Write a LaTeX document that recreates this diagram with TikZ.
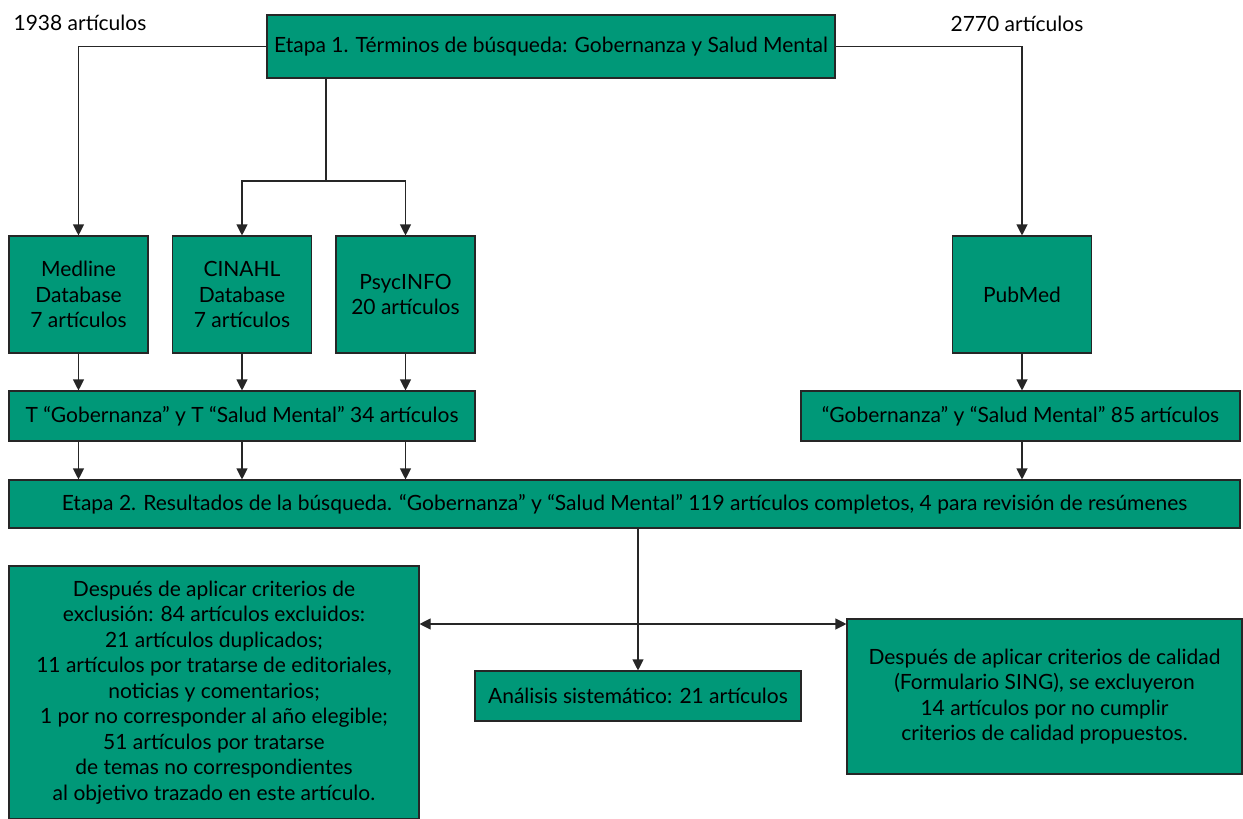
\documentclass[tikz,border=0pt]{standalone}
\usepackage{fontspec}
\setmainfont{Lato}
\usetikzlibrary{positioning,shapes,arrows.meta}
\definecolor{caja}{RGB}{0,152,120}

\begin{document}
\begin{tikzpicture}[x=1pt,y=-1pt,
    caja/.style={draw=black!85,fill=caja,line width=1.1pt,inner sep=0pt,align=center,
        font=\fontsize{21}{25.5}\selectfont},
    flecha/.style={-{Triangle[width=11pt,length=11pt]},line width=1.1pt,black!85},
    doble/.style={{Triangle[width=11pt,length=11pt]}-{Triangle[width=11pt,length=11pt]},line width=1.1pt,black!85}]
        \useasboundingbox (0,0) rectangle (1243,819);
        % etapa 1
        \node[caja,minimum width=568pt,minimum height=63pt] (etapa1) at (551,46.5) {Etapa 1. Términos de búsqueda: Gobernanza y Salud Mental};
        \node[font=\fontsize{21}{25.5}\selectfont] (n1938) at (80,23) {1938 artículos};
        \node[font=\fontsize{21}{25.5}\selectfont] (n2770) at (1017,24) {2770 artículos};
        % bases de datos
        \node[caja,minimum width=139pt,minimum height=117pt] (medline) at (78.5,294.5) {Medline\\Database\\7 artículos};
        \node[caja,minimum width=139pt,minimum height=117pt] (cinahl) at (242,294.5) {CINAHL\\Database\\7 artículos};
        \node[caja,minimum width=139pt,minimum height=117pt] (psyc) at (405.5,294.5) {PsycINFO\\20 artículos};
        \node[caja,minimum width=139pt,minimum height=117pt] (pubmed) at (1022,294.5) {PubMed};
        % resultados parciales
        \node[caja,minimum width=466pt,minimum height=50pt] (tgob) at (242,416) {T “Gobernanza” y T “Salud Mental” 34 artículos};
        \node[caja,minimum width=439pt,minimum height=50pt] (gob) at (1020.5,416) {“Gobernanza” y “Salud Mental” 85 artículos};
        % etapa 2
        \node[caja,minimum width=1231pt,minimum height=48pt] (etapa2) at (624.5,504) {Etapa 2. Resultados de la búsqueda. “Gobernanza” y “Salud Mental” 119 artículos completos, 4 para revisión de resúmenes};
        \node[caja,minimum width=410pt,minimum height=253pt] (excl) at (214,692.5) {Después de aplicar criterios de\\exclusión: 84 artículos excluidos:\\21 artículos duplicados;\\11 artículos por tratarse de editoriales,\\noticias y comentarios;\\1 por no corresponder al año elegible;\\51 artículos por tratarse\\de temas no correspondientes\\al objetivo trazado en este artículo.};
        \node[caja,minimum width=326pt,minimum height=50pt] (analisis) at (638,696) {Análisis sistemático: 21 artículos};
        \node[caja,minimum width=395pt,minimum height=155pt] (calidad) at (1044.5,696.5) {Después de aplicar criterios de calidad\\(Formulario SING), se excluyeron\\14 artículos por no cumplir\\criterios de calidad propuestos.};
        \coordinate (reparto) at (326,181);
        \coordinate (cruce) at (638,624);
        % conectores
        \draw[flecha] (etapa1.west) -| (medline.north);
        \draw[flecha] (etapa1.east) -| (pubmed.north);
        \draw[line width=1.1pt,black!85] (etapa1.south -| reparto) -- (reparto);
        \draw[flecha] (reparto) -| (cinahl.north);
        \draw[flecha] (reparto) -| (psyc.north);
        \foreach \b in {medline,cinahl,psyc} {
            \draw[flecha] (\b.south) -- (tgob.north -| \b);
            \draw[flecha] (tgob.south -| \b) -- (etapa2.north -| \b);
        }
        \draw[flecha] (pubmed.south) -- (gob.north -| pubmed);
        \draw[flecha] (gob.south -| pubmed) -- (etapa2.north -| pubmed);
        \draw[flecha] (etapa2.south -| analisis) -- (analisis.north);
        \draw[doble] (excl.east |- cruce) -- (calidad.west |- cruce);
    \end{tikzpicture}
\end{document}
